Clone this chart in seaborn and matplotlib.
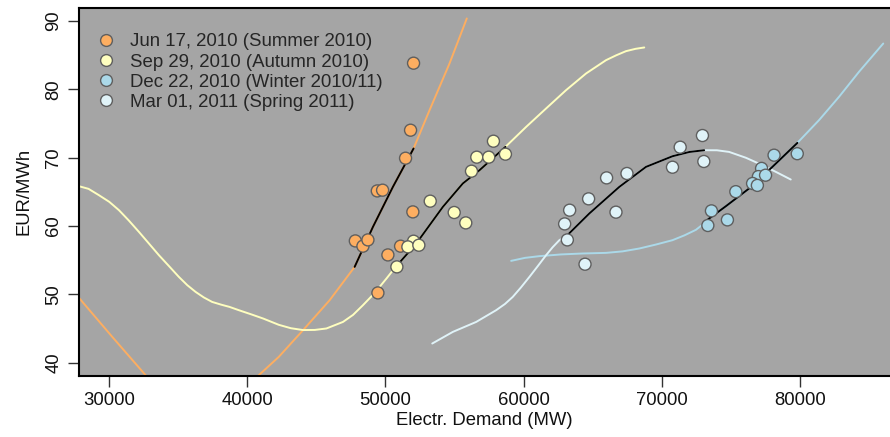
import numpy as np
import pandas as pd
import matplotlib
matplotlib.use("Agg")
import matplotlib.pyplot as plt
import seaborn as sns
from matplotlib.lines import Line2D

# ---------------- data ----------------
season_labels = ["Jun 17, 2010 (Summer 2010)", "Sep 29, 2010 (Autumn 2010)",
                 "Dec 22, 2010 (Winter 2010/11)", "Mar 01, 2011 (Spring 2011)"]
season_colors = ["#FDAE61", "#FFFFBF", "#ABD9E9", "#E0F3F8"]

# observed hourly points (demand MW, price EUR/MWh)
summer_x = [52032, 51815, 51453, 49407, 49790, 51981, 47816, 48366, 48727, 50174, 51092, 49451]
summer_y = [83.85, 74.04, 69.94, 65.15, 65.26, 62.08, 57.83, 57.06, 57.98, 55.78, 57.06, 50.22]
autumn_x = [57816, 56609, 57476, 58684, 56226, 53239, 54975, 55813, 52032, 51620, 52415, 50824]
autumn_y = [72.43, 70.09, 70.09, 70.53, 68.04, 63.65, 61.99, 60.47, 57.79, 56.96, 57.20, 54.03]
winter_x = [78135, 79815, 77231, 77001, 77520, 76580, 76927, 75365, 73601, 74758, 73341]
winter_y = [70.38, 70.60, 68.45, 67.25, 67.45, 66.24, 65.96, 65.04, 62.23, 60.91, 60.09]
spring_x = [72950, 71338, 73050, 70781, 67484, 66009, 64707, 63334, 62972, 63167, 66688, 64447]
spring_y = [73.26, 71.55, 69.46, 68.62, 67.70, 67.06, 63.99, 62.33, 60.32, 57.98, 62.04, 54.42]

# fitted curves
summer_cx = [27809, 30217, 32632, 34751, 36703, 38728, 40825, 42271, 44028, 45957,
             47766, 49090, 50536, 52032, 53190, 54636, 55887]
summer_cy = [49.49, 43.78, 38.17, 33.78, 31.58, 33.93, 38.17, 40.85, 44.76, 49.15,
             54.03, 59.88, 65.74, 71.36, 76.97, 83.81, 90.40]
autumn_cx = [27809, 28500, 29255, 30000, 30701, 31400, 32148, 32870, 33594, 34320, 35040,
             35650, 36248, 36850, 37448, 38100, 38706, 39379, 40250, 41139, 42271, 43150,
             44028, 44880, 45720, 46921, 47650, 48367, 49000, 49574, 50100, 50659, 52228,
             54152, 55598, 56805, 58685, 60182, 61628, 63074, 64520, 65967, 66700, 67413,
             68100, 68736]
autumn_cy = [65.84, 65.45, 64.52, 63.55, 62.33, 60.85, 59.15, 57.45, 55.74, 54.15, 52.56,
             51.35, 50.37, 49.55, 48.90, 48.50, 48.17, 47.69, 47.10, 46.47, 45.55, 45.05,
             44.78, 44.80, 45.01, 45.97, 47.00, 48.42, 49.75, 51.10, 52.40, 53.84, 57.45,
             62.81, 66.24, 68.18, 71.60, 74.52, 77.22, 79.90, 82.34, 84.29, 85.00, 85.61,
             85.95, 86.15]
winter_cx = [59098, 60100, 61144, 62700, 64275, 65967, 67167, 68379, 69582, 70783, 71650,
             72474, 72952, 73342, 74644, 76329, 78014, 79822, 81391, 82837, 84283, 86040]
winter_cy = [54.91, 55.35, 55.60, 55.85, 55.99, 56.08, 56.30, 56.72, 57.30, 57.94, 58.65,
             59.45, 60.20, 60.97, 62.91, 65.51, 68.67, 72.18, 75.51, 78.92, 82.58, 86.73]
spring_cx = [53385, 54875, 56567, 58013, 58650, 59213, 59800, 60421, 61030, 61628, 62100,
             62590, 63169, 64759, 66929, 68860, 70783, 72000, 73075, 74000, 74883, 76100,
             77291, 78350, 79344]
spring_cy = [42.81, 44.51, 45.97, 47.69, 48.60, 49.63, 51.00, 52.56, 54.15, 55.74, 56.90,
             57.94, 58.67, 61.85, 65.74, 68.67, 70.23, 70.85, 71.11, 71.10, 70.86, 70.00,
             68.92, 67.85, 66.82]

x_ticks = [30000, 40000, 50000, 60000, 70000, 80000]
y_ticks = [40, 50, 60, 70, 80, 90]

# ---------------- frames ----------------
pts = pd.concat([
    pd.DataFrame({"x": summer_x, "y": summer_y, "season": season_labels[0]}),
    pd.DataFrame({"x": autumn_x, "y": autumn_y, "season": season_labels[1]}),
    pd.DataFrame({"x": winter_x, "y": winter_y, "season": season_labels[2]}),
    pd.DataFrame({"x": spring_x, "y": spring_y, "season": season_labels[3]}),
], ignore_index=True)
curves = pd.concat([
    pd.DataFrame({"x": summer_cx, "y": summer_cy, "season": season_labels[0]}),
    pd.DataFrame({"x": autumn_cx, "y": autumn_cy, "season": season_labels[1]}),
    pd.DataFrame({"x": winter_cx, "y": winter_cy, "season": season_labels[2]}),
    pd.DataFrame({"x": spring_cx, "y": spring_cy, "season": season_labels[3]}),
], ignore_index=True)

# black part: curve within observed demand range
inner = []
for lab in season_labels:
    c = curves[curves.season == lab]
    p = pts[pts.season == lab]
    inner.append(c[(c.x >= p.x.min() - 200) & (c.x <= p.x.max() + 200)])
inner = pd.concat(inner, ignore_index=True)

palette = dict(zip(season_labels, season_colors))

# ---------------- plot ----------------
sns.set_theme(style="white")
plt.rcParams['font.family'] = ['Liberation Sans', 'DejaVu Sans']

fig = plt.figure(figsize=(8.9, 4.37), dpi=100)
ax = fig.add_axes([0.0888, 0.1403, 0.9112, 0.8425])
ax.set_facecolor("#a5a5a5")

sns.lineplot(data=curves, x="x", y="y", hue="season", palette=palette, sort=False,
             estimator=None, units="season", legend=False, lw=1.4, ax=ax, zorder=2)
sns.lineplot(data=inner, x="x", y="y", units="season", color="black", sort=False,
             estimator=None, legend=False, lw=1.4, ax=ax, zorder=3)
sns.scatterplot(data=pts, x="x", y="y", hue="season", palette=palette, s=75,
                edgecolor="#5f5f5f", linewidth=1.0, legend=False, ax=ax, zorder=4)

ax.set_xlim(27810, 86530)
ax.set_ylim(38.1, 92.0)
ax.set_xticks(x_ticks)
ax.set_xticklabels([str(v) for v in x_ticks])
ax.set_yticks(y_ticks)
ax.set_yticklabels([str(v) for v in y_ticks], rotation=90, va="center")
ax.tick_params(axis="both", which="major", direction="out", length=8, width=1,
               color="#333333", labelsize=13.3, labelcolor="#111111", pad=4,
               left=True, bottom=True)
ax.set_xlabel("Electr. Demand (MW)", fontsize=13.3, color="#111111", labelpad=2)
ax.set_ylabel("EUR/MWh", fontsize=13.3, color="#111111", labelpad=9)

for s in ["left", "bottom", "top"]:
    ax.spines[s].set_visible(True)
    ax.spines[s].set_color("black")
    ax.spines[s].set_linewidth(1.5)
ax.spines["right"].set_visible(False)

handles = [Line2D([], [], marker="o", ls="", markerfacecolor=c, markeredgecolor="#5f5f5f",
                  markeredgewidth=1.0, markersize=8.5) for c in season_colors]
ax.legend(handles, season_labels, loc="upper left", bbox_to_anchor=(0.022, 0.93),
          frameon=False, fontsize=13.4, handlelength=1.0, handletextpad=0.8,
          labelspacing=0.17, borderaxespad=0, borderpad=0)

fig.savefig("out.png", dpi=100, facecolor="white")
